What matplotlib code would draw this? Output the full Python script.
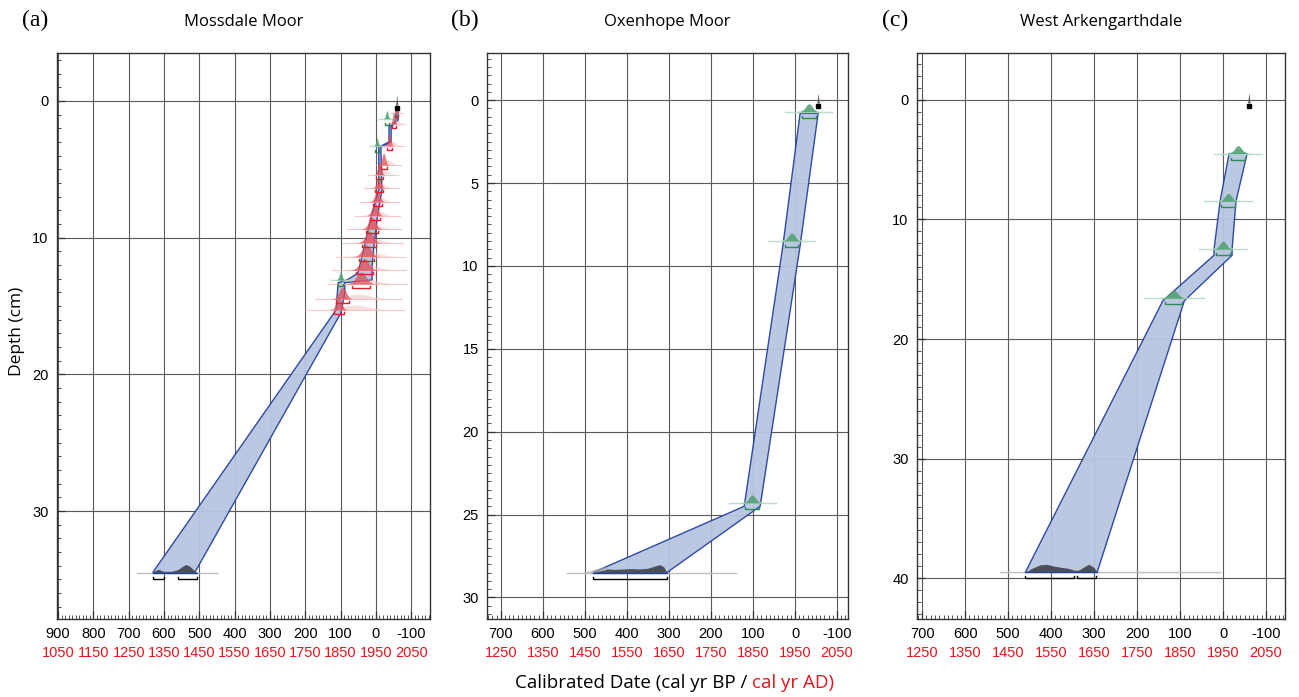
import numpy as np
import matplotlib.pyplot as plt
from matplotlib.ticker import MultipleLocator

# ---- data ----
sites = ['Mossdale Moor', 'Oxenhope Moor', 'West Arkengarthdale']
tags = ['(a)', '(b)', '(c)']

# age-depth envelope: older bound and younger bound (cal yr BP)
a_old_depth = [0.5, 1.4, 1.9, 3.0, 3.4, 6.5, 8.2, 11.1, 12.6, 13.1, 13.3, 15.3, 34.5]
a_old_age = [-57, -57, -37, -37, -8, -8, 11, 37, 51, 82, 107, 113, 632]
a_young_depth = [0.5, 1.4, 1.9, 3.0, 3.4, 6.5, 8.7, 10.7, 12.1, 13.1, 13.3, 14.0, 15.5, 34.5]
a_young_age = [-63, -63, -43, -43, -14, -17, -3, 6, 11, 11, 88, 88, 99, 513]

b_old_depth = [0.8, 8.8, 24.5, 28.5]
b_old_age = [-12, 29, 121, 481]
b_young_depth = [0.8, 8.8, 24.5, 28.5]
b_young_age = [-55, -12, 83, 305]

c_old_depth = [4.5, 8.5, 12.5, 13.0, 16.8, 39.5]
c_old_age = [-14, 7, 21, 21, 140, 460]
c_young_depth = [4.5, 8.5, 12.5, 13.0, 16.8, 39.5]
c_young_age = [-56, -30, -21, -21, 90, 293]

# 210Pb-type dates (red) in Mossdale: depth, modelled age, sd, unmodelled age, sd
red_depth = [0.9, 1.7, 3.3, 4.7, 5.4, 6.4, 7.4, 8.4, 9.4, 10.4, 11.4, 12.4, 13.4, 14.5, 15.3]
red_age = [-58, -50, -38, -22, -10, -8, -4, 3, 11, 19, 27, 33, 42, 95, 105]
red_sd = [2, 3, 4, 5, 5, 6, 7, 8, 10, 11, 12, 13, 14, 10, 8]
red_raw_age = [-60, -55, -45, -35, -20, -15, -10, -5, 5, 10, 15, 20, 25, 50, 60]
red_raw_sd = [5, 8, 10, 10, 12, 14, 16, 18, 22, 25, 28, 30, 32, 35, 40]

# green dates: depth, age, sd
a_green_depth = [1.3, 3.3, 13.1]
a_green_age = [-31, -3, 100]
a_green_sd = [3, 3, 4]
b_green_depth = [0.7, 8.5, 24.3]
b_green_age = [-33, 8, 102]
b_green_sd = [8, 8, 8]
c_green_depth = [4.5, 8.5, 12.5, 16.6]
c_green_age = [-35, -12, 0, 115]
c_green_sd = [8, 8, 8, 10]

# surface marker (age, depth)
top_age = [-59, -55, -60]
top_depth = [0.5, 0.35, 0.5]

# basal radiocarbon probability profiles (age, relative probability)
a_dark_age = [632, 625, 615, 605, 598, 580, 560, 545, 537, 528, 515, 507]
a_dark_p = [0, 0.25, 0.4, 0.2, 0.05, 0.1, 0.4, 0.85, 1.0, 0.8, 0.3, 0]
b_dark_age = [481, 470, 455, 445, 430, 410, 390, 370, 350, 335, 322, 312, 305]
b_dark_p = [0, 0.15, 0.3, 0.45, 0.4, 0.45, 0.5, 0.45, 0.55, 0.8, 1.0, 0.7, 0]
b_light_age = [505, 490, 470, 455, 445, 435]
b_light_p = [0, 0.3, 0.6, 0.85, 0.6, 0]
c_dark_age = [460, 445, 425, 410, 395, 380, 360, 345, 335, 320, 312, 300, 293]
c_dark_p = [0, 0.5, 0.95, 1.0, 0.8, 0.65, 0.5, 0.25, 0.3, 0.8, 1.0, 0.6, 0]
dark_depth = [34.5, 28.5, 39.5]
dark_line = [(677, 450), (543, 140), (519, 7)]
dark_brackets = [[(632, 600), (561, 507)], [(481, 305)], [(460, 347), (340, 295)]]

xlims = [(903, -153), (733, -126), (712, -144)]
ylims = [(37.9, -3.5), (31.3, -2.84), (43.4, -3.9)]
xticks = [list(range(900, -101, -100)), list(range(700, -101, -100)), list(range(700, -101, -100))]
ystep = [10, 5, 10]
yminor = [1, 0.5, 1]

env_fill = '#b8c5e0'
env_edge = '#2442a0'
green_dark = '#4f9e72'
green_light = '#b5dcc3'
red_dark = '#e0464e'
red_light = '#f6b3b3'

fig = plt.figure(figsize=(12.99, 6.97), dpi=100)
positions = [[0.0439, 0.1119, 0.2871, 0.812],
             [0.3749, 0.1119, 0.2779, 0.812],
             [0.7059, 0.1119, 0.2833, 0.812]]

tick_font = 'Liberation Sans'
label_font = 'Open Sans'


def px(ax, n):
    # n pixels in depth units
    lo, hi = ax.get_ylim()
    return n * abs(lo - hi) / (ax.get_position().height * 697)


def bell(ax, depth, age, sd, h, color, alpha, z, span=3.5):
    x = np.linspace(age - span * sd, age + span * sd, 120)
    y = depth - h * np.exp(-0.5 * ((x - age) / sd) ** 2)
    ax.fill_between(x, y, depth, color=color, alpha=alpha, lw=0, zorder=z)


def bracket(ax, depth, old, young, color):
    t = px(ax, 2)
    ax.plot([old, old, young, young], [depth - t, depth, depth, depth - t],
            color=color, lw=1.0, zorder=6)


envelopes = [(a_old_depth, a_old_age, a_young_depth, a_young_age),
             (b_old_depth, b_old_age, b_young_depth, b_young_age),
             (c_old_depth, c_old_age, c_young_depth, c_young_age)]
greens = [(a_green_depth, a_green_age, a_green_sd),
          (b_green_depth, b_green_age, b_green_sd),
          (c_green_depth, c_green_age, c_green_sd)]
darks = [(a_dark_age, a_dark_p), (b_dark_age, b_dark_p), (c_dark_age, c_dark_p)]

for i in range(3):
    ax = fig.add_axes(positions[i])
    ax.set_xlim(*xlims[i])
    ax.set_ylim(*ylims[i])
    ax.set_axisbelow(True)
    ax.grid(True, which='major', color='#5a5a5a', lw=0.8)

    ax.xaxis.set_minor_locator(MultipleLocator(10))
    ax.set_xticks(xticks[i])
    ax.set_xticklabels([str(v) for v in xticks[i]], fontfamily=tick_font, fontsize=10.5)
    yt = np.arange(0, ylims[i][0], ystep[i])
    ax.set_yticks(yt)
    ax.set_yticklabels(['%d' % v for v in yt], fontfamily=tick_font, fontsize=10.5)
    ax.yaxis.set_minor_locator(MultipleLocator(yminor[i]))
    ax.tick_params(which='both', direction='in', top=False, right=False, color='#333')
    ax.tick_params(which='major', length=6, width=0.9, pad=6)
    ax.tick_params(which='minor', length=3, width=0.6)
    for s in ax.spines.values():
        s.set_linewidth(1.0)
        s.set_color('#333')

    # red cal AD labels
    for v in xticks[i]:
        ax.text(v, -0.06, str(1950 - v), transform=ax.get_xaxis_transform(),
                ha='center', va='center', color='#e8141c', fontfamily=tick_font,
                fontsize=10.5, clip_on=False)

    # envelope
    od, oa, yd, ya = envelopes[i]
    ex = list(oa) + list(ya)[::-1]
    ey = list(od) + list(yd)[::-1]
    ax.fill(ex, ey, facecolor=env_fill, edgecolor=env_edge, lw=1.0, alpha=0.95, zorder=3)

    # red dates (Mossdale only)
    if i == 0:
        for d, ag, sd, ra, rs in zip(red_depth, red_age, red_sd, red_raw_age, red_raw_sd):
            ax.plot([ra - 3.5 * rs, ra + 3.5 * rs], [d, d], color=red_light, lw=0.8, alpha=0.7, zorder=4)
            bell(ax, d, ra, rs, px(ax, 5), red_light, 0.45, 4)
            bell(ax, d, ag, sd, px(ax, 12), red_dark, 0.7, 5)
            bracket(ax, d + px(ax, 4), ag + 1.8 * sd, ag - 1.8 * sd, '#e51e25')

    # green dates
    gd, ga, gs = greens[i]
    for d, ag, sd in zip(gd, ga, gs):
        ax.plot([ag - 7 * sd, ag + 7 * sd], [d, d], color=green_light, lw=1.0, alpha=0.9, zorder=4)
        bell(ax, d, ag, sd * 1.8, px(ax, 4), green_light, 0.6, 4)
        bell(ax, d, ag, sd, px(ax, 8), green_dark, 0.85, 5)
        bracket(ax, d + px(ax, 6), ag + 2 * sd, ag - 2 * sd, '#2e8b57')

    # basal dates
    dd = dark_depth[i]
    ax.plot(dark_line[i], [dd, dd], color='#bdbdbd', lw=1.0, zorder=4)
    if i == 1:
        ax.fill_between(b_light_age, dd - np.array(b_light_p) * px(ax, 7), dd,
                        color='#a8a8a8', alpha=0.6, lw=0, zorder=5)
    da, dp = darks[i]
    ax.fill_between(da, dd - np.array(dp) * px(ax, 8), dd, color='#4b5058', lw=0, zorder=5)
    ax.plot([da[0], da[-1]], [dd, dd], color=env_edge, lw=1.0, zorder=6)
    for old, young in dark_brackets[i]:
        bracket(ax, dd + px(ax, 6), old, young, 'black')

    # surface marker
    bell(ax, top_depth[i] - px(ax, 3), top_age[i], 1.2, px(ax, 9), '#555555', 1.0, 6)
    ax.plot(top_age[i], top_depth[i], marker='s', ms=2.5, color='black', zorder=7)

    # titles
    fig.text(positions[i][0] - 0.017, 0.970, tags[i], fontfamily='Liberation Serif',
             fontsize=17, ha='center', va='center')
    fig.text(positions[i][0] + positions[i][2] / 2, 0.968, sites[i], fontfamily=label_font,
             fontsize=12, ha='center', va='center')

fig.text(0.013, 1 - 331 / 697, 'Depth (cm)', rotation=90, fontfamily=label_font, fontsize=12.5,
         ha='center', va='center')
t1 = fig.text(515 / 1299, 1 - 683 / 697, 'Calibrated Date (cal yr BP / ', fontfamily=label_font,
              fontsize=13.5, ha='left', va='center')
fig.canvas.draw()
bb = t1.get_window_extent()
fig.text(bb.x1 / fig.bbox.width, 1 - 683 / 697, 'cal yr AD)', color='#e8141c',
         fontfamily=label_font, fontsize=13.5, ha='left', va='center')

fig.savefig('out.png', dpi=100)
